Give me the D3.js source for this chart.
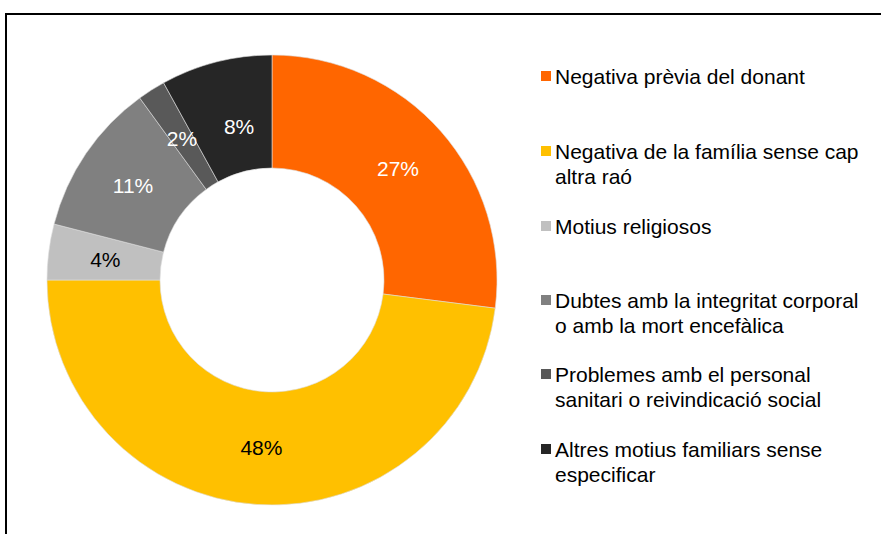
<!DOCTYPE html>
<html><head><meta charset="utf-8">
<script src="https://cdn.jsdelivr.net/npm/d3@7"></script>
<style>body{margin:0;background:#fff}svg{display:block}</style>
</head><body>
<svg id="c" width="881" height="534"></svg>
<script>
const categories = [
  "Negativa prèvia del donant",
  "Negativa de la família sense cap altra raó",
  "Motius religiosos",
  "Dubtes amb la integritat corporal o amb la mort encefàlica",
  "Problemes amb el personal sanitari o reivindicació social",
  "Altres motius familiars sense especificar"
];
const legendLines = [
  ["Negativa prèvia del donant"],
  ["Negativa de la família sense cap", "altra raó"],
  ["Motius religiosos"],
  ["Dubtes amb la integritat corporal", "o amb la mort encefàlica"],
  ["Problemes amb el personal", "sanitari o reivindicació social"],
  ["Altres motius familiars sense", "especificar"]
];
const values = [27, 48, 4, 11, 2, 8];
const colors = ["#FF6600", "#FFC000", "#C0C0C0", "#808080", "#595959", "#262626"];
const labelColors = ["#fff", "#000", "#000", "#fff", "#fff", "#fff"];

const svg = d3.select("#c");
const font = "'Liberation Sans', Arial, sans-serif";

svg.append("rect").attr("x", 6).attr("y", 14).attr("width", 900).attr("height", 560)
  .attr("fill", "none").attr("stroke", "#000").attr("stroke-width", 2);

const cx = 272, cy = 280, R = 225, r = 112;
const pie = d3.pie().sort(null).value(d => d);
const arcs = pie(values);
const arc = d3.arc().innerRadius(r).outerRadius(R);
const labelArc = d3.arc().innerRadius(168).outerRadius(168);

const g = svg.append("g").attr("transform", `translate(${cx},${cy})`);
g.selectAll("path").data(arcs).join("path")
  .attr("d", arc).attr("fill", (d, i) => colors[i])
  .attr("stroke", "#ddd").attr("stroke-width", 0.6);

function labelPos(d, i) {
  if (i === arcs.length - 1) {
    // last small slice label sits a bit further clockwise and inward
    const a = d3.arc().innerRadius(157).outerRadius(157);
    return a.centroid({startAngle: d.startAngle + 0.04, endAngle: d.endAngle + 0.04});
  }
  return labelArc.centroid(d);
}

g.selectAll("text").data(arcs).join("text")
  .attr("transform", (d, i) => `translate(${labelPos(d, i)})`)
  .attr("text-anchor", "middle").attr("dy", "0.36em")
  .attr("font-family", font).attr("font-size", 21)
  .attr("fill", (d, i) => labelColors[i])
  .text(d => d.data + "%");

const ly = d3.scaleOrdinal().domain(d3.range(6)).range([76, 151, 226, 300, 374, 449]);
const leg = svg.append("g");
const items = leg.selectAll("g").data(categories).join("g")
  .attr("transform", (d, i) => `translate(541,${ly(i)})`);
items.append("rect").attr("x", 0).attr("y", -5).attr("width", 10).attr("height", 10)
  .attr("fill", (d, i) => colors[i]);
items.append("text")
  .attr("font-family", font).attr("font-size", 21).attr("fill", "#000")
  .selectAll("tspan").data((d, i) => legendLines[i]).join("tspan")
  .attr("x", 14).attr("dy", (d, j) => j === 0 ? "0.36em" : 25)
  .text(d => d);
</script>
</body></html>
